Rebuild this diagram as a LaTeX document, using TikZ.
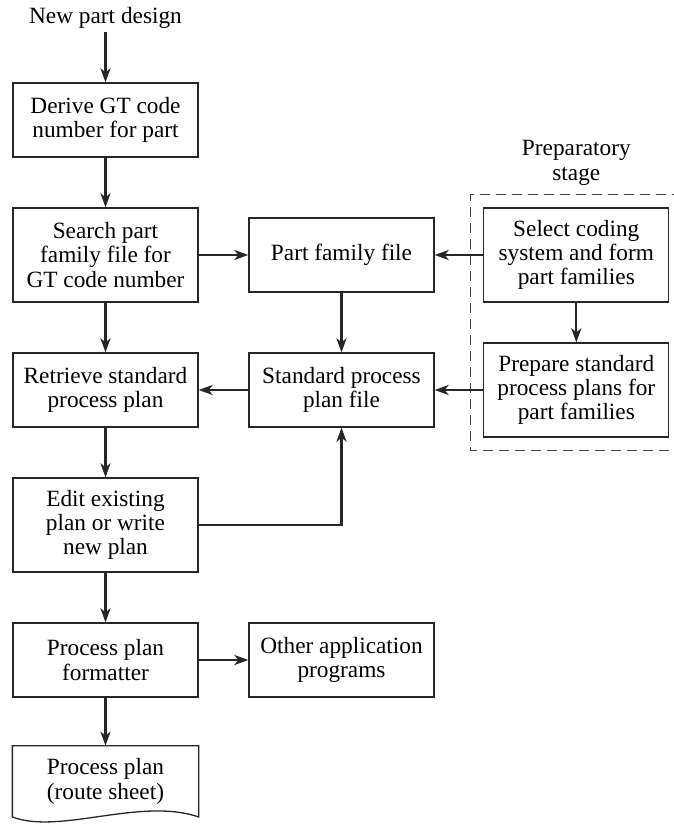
\documentclass[tikz,border=0pt]{standalone}
\usepackage{fontspec}
\setmainfont{Liberation Serif}
\usetikzlibrary{arrows.meta,positioning,fit,calc}

\begin{document}
\begin{tikzpicture}[
  x=1pt, y=-1pt,
  font=\fontsize{23.3}{24.3}\selectfont, node distance=49.7pt,
  proc/.style={draw=black!85, line width=1.3pt, rectangle, align=center, minimum width=185pt, minimum height=74pt, inner sep=4pt},
  tall/.style={proc, minimum height=94pt},
  arr/.style={-{Stealth[length=14pt, width=10pt, inset=4pt]}, line width=2.3pt, draw=black!85},
  frame/.style={draw=black!75, line width=1.3pt, dash pattern=on 10pt off 6pt}
]
  \useasboundingbox (0,0) rectangle (673,824);

  \node[proc] (derive) at (105.5,120) {Derive GT code\\number for part};
  \node[above=50pt of derive, inner sep=4pt] (design) {New part design};
  \node[tall, below=of derive] (search) {Search part\\family file for\\GT code number};
  \node[proc, below=of search] (retrieve) {Retrieve standard\\process plan};
  \node[tall, below=of retrieve] (edit) {Edit existing\\plan or write\\new plan};
  \node[proc, below=of edit] (fmt) {Process plan\\formatter};
  \node[proc, draw=none, minimum height=70pt, below=48pt of fmt] (sheet) {Process plan\\(route sheet)};

  \node[proc, right=of search] (famfile) {Part family file};
  \node[proc, right=of retrieve] (stdfile) {Standard process\\plan file};
  \node[proc, right=of fmt] (other) {Other application\\programs};

  \node[tall, right=48.5pt of famfile] (select) {Select coding\\system and form\\part families};
  \node[tall] (prepare) at (select |- stdfile) {Prepare standard\\process plans for\\part families};
  \node[above=22pt of select, inner sep=0pt, align=center] (preplbl) {Preparatory\\stage};
  \node[fit=(select)(prepare), inner sep=12.5pt] (prep) {};
  \draw[frame] (prep.north east) -- (prep.north west) -- (prep.south west) -- (prep.south east);

  \draw[draw=black!85, line width=1.3pt] (sheet.south west) -- (sheet.north west) -- (sheet.north east) -- (sheet.south east)
    .. controls +(-58,-20) and +(47,18) .. (sheet.south west) -- cycle;

  \draw[arr] (design) -- (derive);
  \draw[arr] (derive) -- (search);
  \draw[arr] (search) -- (famfile);
  \draw[arr] (select) -- (famfile);
  \draw[arr] (famfile) -- (stdfile);
  \draw[arr] (select) -- (prepare);
  \draw[arr] (prepare) -- (stdfile);
  \draw[arr] (stdfile) -- (retrieve);
  \draw[arr] (search) -- (retrieve);
  \draw[arr] (retrieve) -- (edit);
  \draw[arr] (edit.east) -| (stdfile.south);
  \draw[arr] (edit) -- (fmt);
  \draw[arr] (fmt) -- (other);
  \draw[arr] (fmt) -- (sheet);
\end{tikzpicture}
\end{document}
